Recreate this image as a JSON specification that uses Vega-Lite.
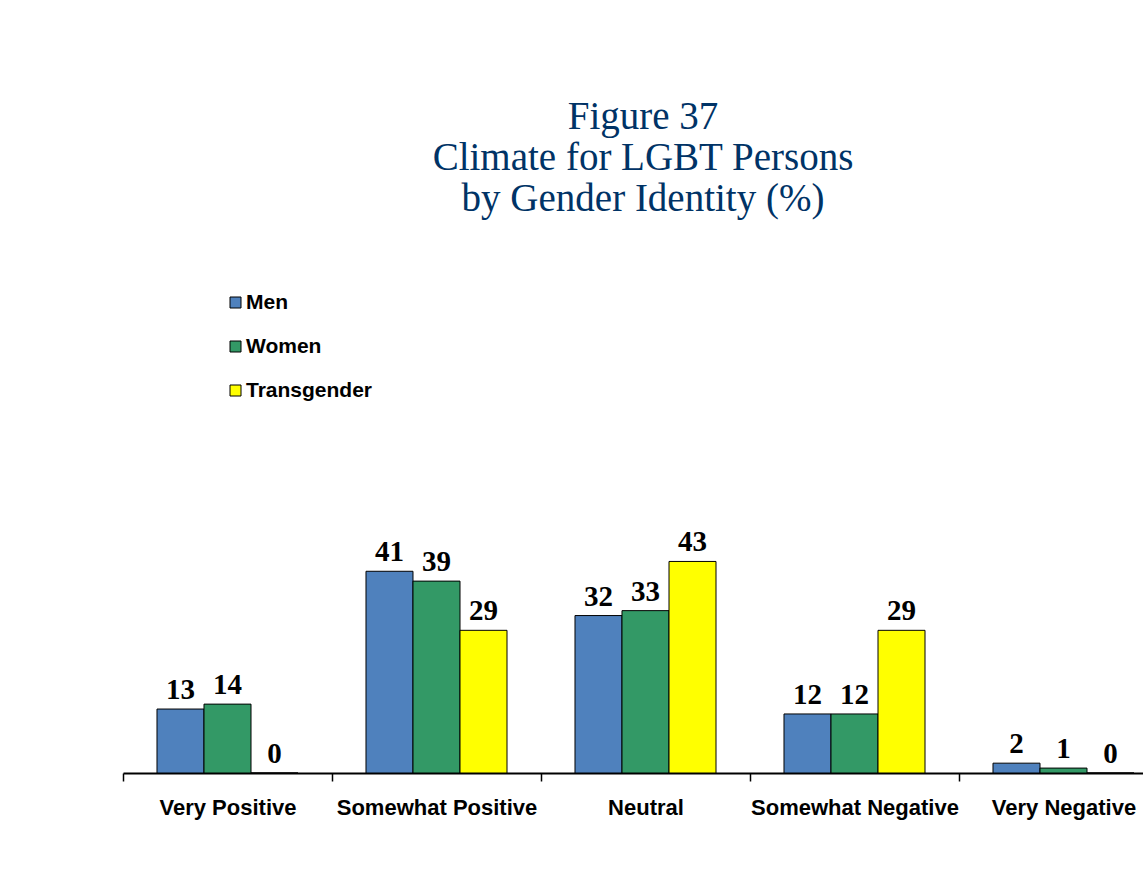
{
  "$schema": "https://vega.github.io/schema/vega-lite/v6.json",
  "autosize": {"type": "none"},
  "width": 1020,
  "height": 492,
  "padding": {"left": 123, "top": 281, "right": 0, "bottom": 113},
  "background": "white",
  "config": {"view": {"stroke": null}},
  "title": {
    "text": ["Figure 37", "Climate for LGBT Persons", "by Gender Identity (%)"],
    "font": "Liberation Serif",
    "fontSize": 39,
    "fontWeight": "normal",
    "color": "#003366",
    "lineHeight": 41,
    "anchor": "middle",
    "dx": 10,
    "offset": 62
  },
  "data": {
    "values": [
      {"climate": "Very Positive", "group": "Men", "pct": 13},
      {"climate": "Very Positive", "group": "Women", "pct": 14},
      {"climate": "Very Positive", "group": "Transgender", "pct": 0},
      {"climate": "Somewhat Positive", "group": "Men", "pct": 41},
      {"climate": "Somewhat Positive", "group": "Women", "pct": 39},
      {"climate": "Somewhat Positive", "group": "Transgender", "pct": 29},
      {"climate": "Neutral", "group": "Men", "pct": 32},
      {"climate": "Neutral", "group": "Women", "pct": 33},
      {"climate": "Neutral", "group": "Transgender", "pct": 43},
      {"climate": "Somewhat Negative", "group": "Men", "pct": 12},
      {"climate": "Somewhat Negative", "group": "Women", "pct": 12},
      {"climate": "Somewhat Negative", "group": "Transgender", "pct": 29},
      {"climate": "Very Negative", "group": "Men", "pct": 2},
      {"climate": "Very Negative", "group": "Women", "pct": 1},
      {"climate": "Very Negative", "group": "Transgender", "pct": 0}
    ]
  },
  "encoding": {
    "x": {
      "field": "climate",
      "type": "nominal",
      "sort": ["Very Positive", "Somewhat Positive", "Neutral", "Somewhat Negative", "Very Negative"],
      "scale": {"paddingInner": 0, "paddingOuter": 0, "range": [0, 1045]},
      "axis": {
        "title": null,
        "labelAngle": 0,
        "labelFont": "Liberation Sans",
        "labelFontSize": 22,
        "labelFontWeight": "bold",
        "labelColor": "black",
        "labelPadding": 16,
        "labelLimit": 0,
        "domainColor": "black",
        "domainWidth": 2,
        "tickColor": "black",
        "tickWidth": 1.5,
        "tickSize": 8,
        "tickBand": "extent",
        "grid": false
      }
    },
    "xOffset": {
      "field": "group",
      "type": "nominal",
      "sort": ["Men", "Women", "Transgender"],
      "scale": {"paddingInner": 0, "paddingOuter": 0.7234}
    },
    "y": {
      "field": "pct",
      "type": "quantitative",
      "scale": {"domain": [0, 100]},
      "axis": null
    }
  },
  "layer": [
    {
      "mark": {"type": "bar", "stroke": "black", "strokeWidth": 1},
      "encoding": {
        "color": {
          "field": "group",
          "type": "nominal",
          "sort": ["Men", "Women", "Transgender"],
          "scale": {"domain": ["Men", "Women", "Transgender"], "range": ["#4F81BD", "#339966", "#FFFF00"]},
          "legend": {
            "title": null,
            "orient": "none",
            "legendX": 102,
            "legendY": 11,
            "padding": 0,
            "symbolType": "square",
            "symbolSize": 121,
            "symbolStrokeColor": "black",
            "symbolStrokeWidth": 1,
            "symbolOpacity": 1,
            "labelFont": "Liberation Sans",
            "labelFontSize": 21,
            "labelFontWeight": "bold",
            "labelColor": "black",
            "labelOffset": 0,
            "rowPadding": 22
          }
        }
      }
    },
    {
      "mark": {
        "type": "text",
        "font": "Liberation Serif",
        "fontSize": 29,
        "fontWeight": "bold",
        "color": "black",
        "baseline": "alphabetic",
        "dy": -10
      },
      "encoding": {
        "text": {"field": "pct", "type": "quantitative"}
      }
    }
  ]
}
